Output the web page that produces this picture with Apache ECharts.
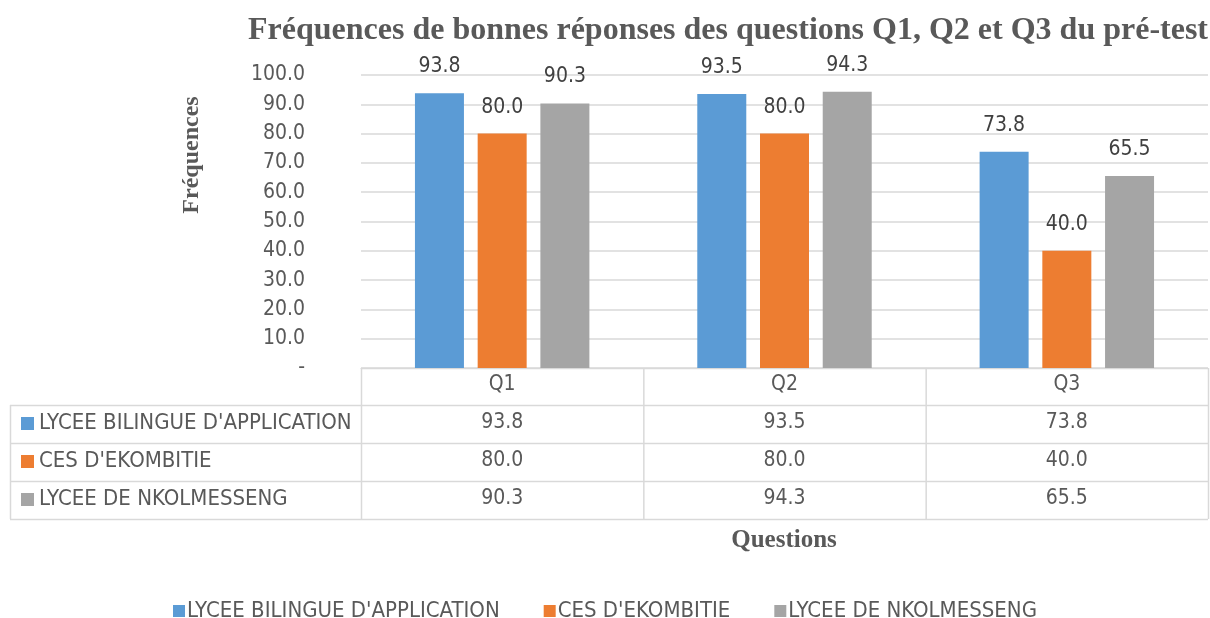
<!DOCTYPE html>
<html>
<head>
<meta charset="utf-8">
<script src="https://cdn.jsdelivr.net/npm/echarts@6/dist/echarts.min.js"></script>
<style>
html,body{margin:0;padding:0;background:#fff;}
#chart{width:1210px;height:618px;}
</style>
</head>
<body>
<div id="chart"></div>
<script>
// ---- data ----
var categories = ['Q1', 'Q2', 'Q3'];
var seriesNames = ["LYCEE BILINGUE D'APPLICATION", "CES D'EKOMBITIE", "LYCEE DE NKOLMESSENG"];
var lyceeBilingue = [93.8, 93.5, 73.8];
var cesEkombitie = [80.0, 80.0, 40.0];
var lyceeNkolmesseng = [90.3, 94.3, 65.5];
var yTicks = [0, 10, 20, 30, 40, 50, 60, 70, 80, 90, 100];
var titleText = 'Fréquences de bonnes réponses des questions Q1, Q2 et Q3 du pré-test';
var yName = 'Fréquences';
var xName = 'Questions';

// ---- styling / layout ----
var seriesValues = [lyceeBilingue, cesEkombitie, lyceeNkolmesseng];
var colors = ['#5B9BD5', '#ED7D31', '#A5A5A5'];
var SANS = '"Liberation Sans Narrow", "DejaVu Sans Condensed", "Liberation Sans", sans-serif';
var SERIF = '"Liberation Serif", "DejaVu Serif", serif';
var TXT = '#595959';
var LINE = '#d9d9d9';
var FS = 21;
var W = 1210, H = 618;
var G = { left: 361, right: 1208, top: 75, bottom: 368 };
var tableLeft = 10;
var rowLines = [368, 405, 443, 481, 519];
var rowCenters = [385, 423, 461, 499];

var chart = echarts.init(document.getElementById('chart'), null, { renderer: 'canvas' });

var xAxes = [{
  type: 'category', data: categories, position: 'bottom', gridIndex: 0,
  axisLine: { show: true, lineStyle: { color: LINE } },
  axisTick: { show: false },
  axisLabel: { color: TXT, fontSize: FS, fontFamily: SANS, margin: rowCenters[0] - G.bottom, verticalAlign: 'middle' }
}];
seriesValues.forEach(function (vals, i) {
  xAxes.push({
    type: 'category', data: categories, position: 'bottom', gridIndex: 0,
    axisLine: { show: false }, axisTick: { show: false }, splitLine: { show: false },
    axisLabel: {
      color: TXT, fontSize: FS, fontFamily: SANS,
      margin: rowCenters[i + 1] - G.bottom, verticalAlign: 'middle',
      formatter: function (v, idx) { return vals[idx].toFixed(1); }
    }
  });
});

var series = seriesValues.map(function (vals, i) {
  return {
    name: seriesNames[i], type: 'bar', data: vals, xAxisIndex: 0,
    barWidth: 49, barGap: '28%',
    itemStyle: { color: colors[i] },
    label: { show: true, position: 'top', distance: 16, color: '#404040', fontSize: FS, fontFamily: SANS,
      formatter: function (p) { return p.value.toFixed(1); } }
  };
});

// table grid lines and row headers
var graphics = [];
function hline(y, x1, x2) {
  graphics.push({ type: 'line', shape: { x1: x1, y1: y + 0.5, x2: x2, y2: y + 0.5 }, style: { stroke: LINE, lineWidth: 1.5 }, silent: true });
}
function vline(x, y1, y2) {
  graphics.push({ type: 'line', shape: { x1: x + 0.5, y1: y1, x2: x + 0.5, y2: y2 }, style: { stroke: LINE, lineWidth: 1.5 }, silent: true });
}
hline(rowLines[0], G.left, G.right);
for (var r = 1; r < rowLines.length; r++) hline(rowLines[r], tableLeft, G.right);
vline(tableLeft, rowLines[1], rowLines[rowLines.length - 1]);
for (var c = 0; c <= categories.length; c++) {
  vline(G.left + c * (G.right - G.left) / categories.length, rowLines[0], rowLines[rowLines.length - 1]);
}
seriesNames.forEach(function (n, i) {
  var cy = rowCenters[i + 1];
  graphics.push({ type: 'rect', shape: { x: 21, y: cy - 6, width: 13, height: 13 }, style: { fill: colors[i] }, silent: true });
  graphics.push({ type: 'text', x: 39, y: cy, style: { text: n, fill: TXT, font: '22px ' + SANS, verticalAlign: 'middle', align: 'left' }, silent: true });
});
graphics.push({ type: 'text', x: 192, y: 155, rotation: Math.PI / 2,
  style: { text: yName, fill: TXT, font: 'bold 24px ' + SERIF, align: 'center', verticalAlign: 'middle' }, silent: true });
graphics.push({ type: 'text', x: 784, y: 541,
  style: { text: xName, fill: TXT, font: 'bold 25px ' + SERIF, align: 'center', verticalAlign: 'middle' }, silent: true });

chart.setOption({
  backgroundColor: '#fff',
  animation: false,
  title: {
    text: titleText, left: 243, top: 10,
    textStyle: { fontFamily: SERIF, fontWeight: 'bold', fontSize: 32, color: TXT }
  },
  legend: {
    data: seriesNames, top: 595, left: 'center',
    icon: 'rect', itemWidth: 12, itemHeight: 12, itemGap: 44,
    textStyle: { color: TXT, fontSize: 22, fontFamily: SANS, padding: [0, 0, 0, -3] }
  },
  grid: { left: G.left, right: W - G.right, top: G.top, bottom: H - G.bottom, containLabel: false },
  xAxis: xAxes,
  yAxis: {
    type: 'value', min: yTicks[0], max: yTicks[yTicks.length - 1], interval: yTicks[1] - yTicks[0],
    axisLine: { show: false }, axisTick: { show: false },
    splitLine: { lineStyle: { color: LINE, width: 1.5 } },
    axisLabel: { color: TXT, fontSize: FS, fontFamily: SANS, margin: 56,
      formatter: function (v) { return v === 0 ? '-' : v.toFixed(1); } }
  },
  series: series,
  graphic: graphics
});
</script>
</body>
</html>
